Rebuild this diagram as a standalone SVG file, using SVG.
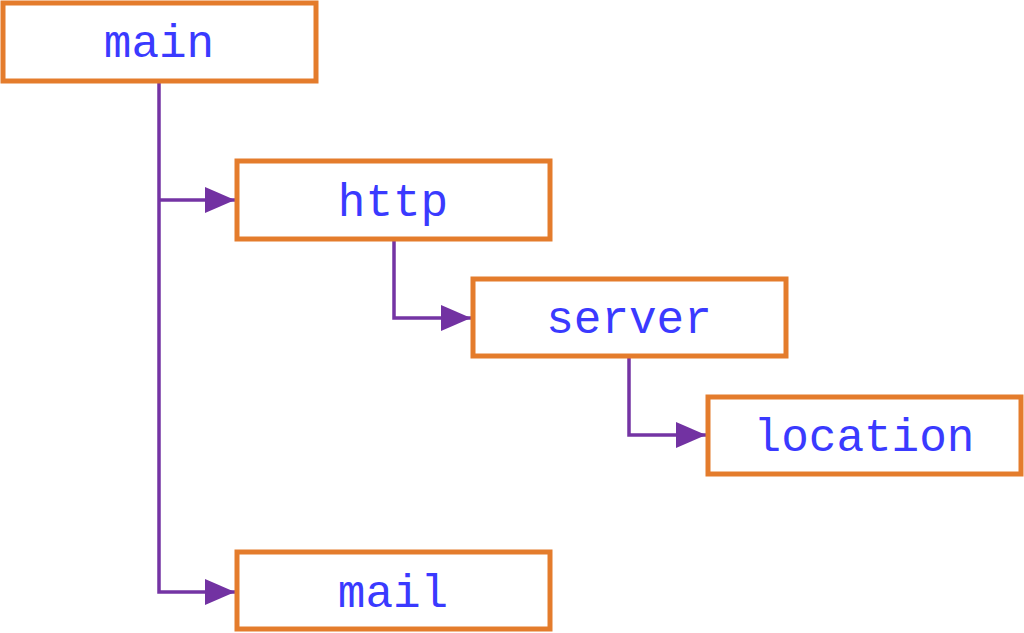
<svg xmlns="http://www.w3.org/2000/svg" width="1024" height="633" viewBox="0 0 1024 633">
<style>
.box{fill:#ffffff;stroke:#e47c2c;stroke-width:5}
.lbl{font-family:"Liberation Mono","DejaVu Sans Mono",monospace;font-size:46px;fill:#3a3aff;text-anchor:middle}
.conn{fill:none;stroke:#7434a4;stroke-width:3.5}
</style>
<defs>
<marker id="arr" markerUnits="userSpaceOnUse" markerWidth="30" markerHeight="26" refX="30" refY="13" orient="auto">
<path d="M0,0 L30,13 L0,26 Z" fill="#7232a2"/>
</marker>
</defs>
<rect width="1024" height="633" fill="#ffffff"/>
<g id="connectors">
<path class="conn" d="M159,81 V592 H235" marker-end="url(#arr)"/>
<path class="conn" d="M159,200 H235" marker-end="url(#arr)"/>
<path class="conn" d="M394,239 V318 H471" marker-end="url(#arr)"/>
<path class="conn" d="M629,356 V435 H706" marker-end="url(#arr)"/>
</g>
<g id="main">
<rect class="box" x="3" y="3" width="313" height="78"/>
<text class="lbl" x="159" y="57">main</text>
</g>
<g id="http">
<rect class="box" x="237" y="161" width="313" height="78"/>
<text class="lbl" x="393" y="216">http</text>
</g>
<g id="server">
<rect class="box" x="473" y="279" width="313" height="77"/>
<text class="lbl" x="629" y="333">server</text>
</g>
<g id="location">
<rect class="box" x="708" y="397" width="313" height="77"/>
<text class="lbl" x="864" y="451">location</text>
</g>
<g id="mail">
<rect class="box" x="237" y="552" width="313" height="77"/>
<text class="lbl" x="393" y="607">mail</text>
</g>
</svg>
